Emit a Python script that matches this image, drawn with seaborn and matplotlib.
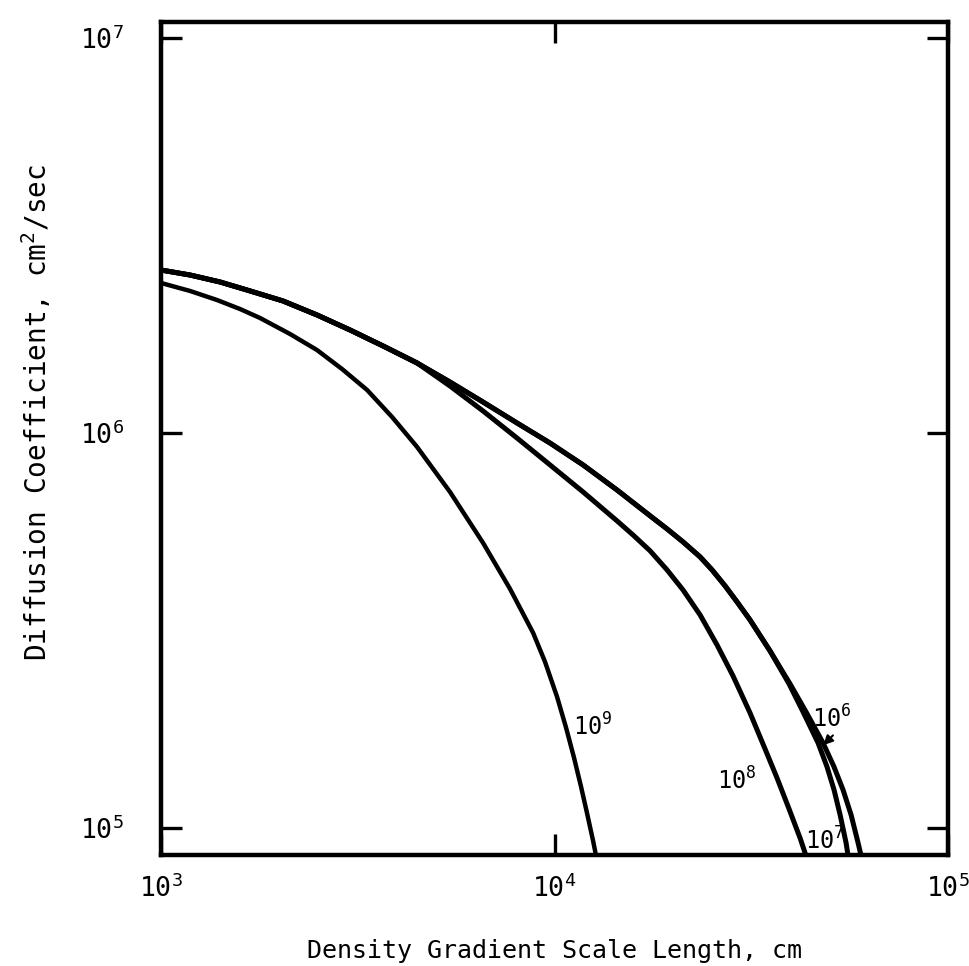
import matplotlib
matplotlib.use("Agg")
import matplotlib.pyplot as plt
import seaborn as sns
import pandas as pd
from matplotlib.ticker import FixedLocator, FixedFormatter, NullLocator

# ---------------- data ----------------
# Density gradient scale length L (cm) and diffusion coefficient D (cm^2/sec)
L_1e6 = [1000, 1185, 1412, 1684, 2042, 2491, 3022, 3666, 4473, 5424, 6580,
         8029, 9741, 11820, 14420, 17490, 19320, 21210, 23440, 25140, 27130,
         29090, 31390, 35290, 39670, 43560, 48130, 51320, 54100, 56700,
         59070, 60110]
D_1e6 = [2.586e6, 2.512e6, 2.412e6, 2.289e6, 2.159e6, 1.990e6, 1.823e6,
         1.661e6, 1.504e6, 1.346e6, 1.198e6, 1.060e6, 9.43e5, 8.30e5, 7.17e5,
         6.17e5, 5.715e5, 5.299e5, 4.855e5, 4.500e5, 4.100e5, 3.735e5,
         3.362e5, 2.806e5, 2.316e5, 1.967e5, 1.641e5, 1.427e5, 1.248e5,
         1.079e5, 9.165e4, 8.50e4]

L_1e7 = [1000, 1185, 1412, 1684, 2042, 2491, 3022, 3666, 4473, 5424, 6580,
         8029, 9741, 11820, 14420, 17490, 19320, 21210, 23440, 25140, 27130,
         29090, 31390, 35290, 39440, 42810, 46740, 49260, 51320, 53170,
         55060, 55710]
D_1e7 = [2.586e6, 2.512e6, 2.412e6, 2.289e6, 2.159e6, 1.990e6, 1.823e6,
         1.661e6, 1.504e6, 1.346e6, 1.198e6, 1.060e6, 9.43e5, 8.30e5, 7.17e5,
         6.17e5, 5.715e5, 5.299e5, 4.855e5, 4.500e5, 4.100e5, 3.735e5,
         3.362e5, 2.806e5, 2.316e5, 1.967e5, 1.641e5, 1.427e5, 1.248e5,
         1.079e5, 9.165e4, 8.50e4]

L_1e8 = [1000, 1185, 1412, 1684, 2042, 2491, 3022, 3666, 4473, 5424, 6580,
         8029, 9741, 11820, 14420, 15830, 17490, 19320, 21210, 23440, 25880,
         28420, 31390, 34270, 36760, 39440, 42060, 43560]
D_1e8 = [2.586e6, 2.512e6, 2.412e6, 2.289e6, 2.159e6, 1.990e6, 1.823e6,
         1.661e6, 1.504e6, 1.315e6, 1.137e6, 9.71e5, 8.30e5, 7.09e5, 5.988e5,
         5.518e5, 5.03e5, 4.500e5, 4.004e5, 3.461e5, 2.906e5, 2.425e5,
         1.955e5, 1.585e5, 1.338e5, 1.117e5, 9.43e4, 8.50e4]

L_1e9 = [1000, 1185, 1388, 1588, 1785, 2127, 2491, 2884, 3339, 3864, 4473,
         5424, 6580, 7706, 8819, 9460, 10150, 10700, 11210, 11680, 12090,
         12530, 12750]
D_1e9 = [2.398e6, 2.289e6, 2.171e6, 2.060e6, 1.955e6, 1.781e6, 1.622e6,
         1.452e6, 1.285e6, 1.098e6, 9.22e5, 7.09e5, 5.27e5, 4.03e5, 3.12e5,
         2.632e5, 2.146e5, 1.792e5, 1.504e5, 1.270e5, 1.091e5, 9.27e4, 8.50e4]

curve_names = ["1e6", "1e7", "1e8", "1e9"]
curve_labels = ["$10^{6}$", "$10^{7}$", "$10^{8}$", "$10^{9}$"]

x_ticks = [1e3, 1e4, 1e5]
x_ticklabels = ["$10^{3}$", "$10^{4}$", "$10^{5}$"]
y_ticks = [1e5, 1e6, 1e7]
y_ticklabels = ["$10^{5}$", "$10^{6}$", "$10^{7}$"]

x_label = "Density Gradient Scale Length, cm"
y_label = "Diffusion Coefficient, cm$^{2}$/sec"

# ---------------- figure ----------------
sns.set_style("ticks")
plt.rcParams["font.family"] = ["DejaVu Sans Mono", "DejaVu Sans"]
plt.rcParams["mathtext.fontset"] = "custom"
plt.rcParams["mathtext.rm"] = "DejaVu Sans Mono"
plt.rcParams["mathtext.it"] = "DejaVu Sans Mono"
plt.rcParams["mathtext.bf"] = "DejaVu Sans Mono:bold"
plt.rcParams["mathtext.default"] = "regular"
plt.rcParams["text.color"] = "black"
plt.rcParams["axes.labelcolor"] = "black"
plt.rcParams["xtick.color"] = "black"
plt.rcParams["ytick.color"] = "black"

fig = plt.figure(figsize=(9.69, 9.66), dpi=100)
ax = fig.add_axes([0.1662, 0.1149, 0.8122, 0.8623])
ax.set_xscale("log")
ax.set_yscale("log")

frames = []
for name, L, D in zip(curve_names, [L_1e6, L_1e7, L_1e8, L_1e9],
                      [D_1e6, D_1e7, D_1e8, D_1e9]):
    frames.append(pd.DataFrame({"L": L, "D": D, "curve": name}))
df = pd.concat(frames, ignore_index=True)

widths = {"1e6": 3.6, "1e7": 3.6, "1e8": 3.6, "1e9": 3.2}
for name in curve_names:
    sub = df[df["curve"] == name]
    sns.lineplot(data=sub, x="L", y="D", ax=ax, color="black",
                 linewidth=widths[name], sort=False, estimator=None,
                 legend=False, solid_capstyle="butt", solid_joinstyle="round")

ax.set_xlim(1e3, 1e5)
ax.set_ylim(8.54e4, 1.098e7)

# ticks
ax.xaxis.set_major_locator(FixedLocator(x_ticks))
ax.xaxis.set_major_formatter(FixedFormatter(x_ticklabels))
ax.yaxis.set_major_locator(FixedLocator(y_ticks))
ax.yaxis.set_major_formatter(FixedFormatter(y_ticklabels))
ax.xaxis.set_minor_locator(NullLocator())
ax.yaxis.set_minor_locator(NullLocator())
ax.tick_params(axis="both", which="major", direction="in", length=15,
               width=2.4, color="black", top=True, right=True,
               labelsize=19, labelcolor="black")
ax.tick_params(axis="x", pad=14)
ax.tick_params(axis="y", pad=27)

for sp in ax.spines.values():
    sp.set_linewidth(3.2)
    sp.set_color("black")
    sp.set_visible(True)

# axis labels
ax.set_xlabel(x_label, fontsize=18, va="baseline", color="black")
ax.xaxis.set_label_coords(0.5, -0.1237)
ax.set_ylabel(y_label, fontsize=20, va="baseline", ha="center",
              rotation_mode="anchor", color="black")
ax.yaxis.set_label_coords(-0.1449, 0.5306)

# curve annotations
ax.text(11140, 1.718e5, curve_labels[3], fontsize=17, ha="left", va="baseline")
ax.text(25880, 1.247e5, curve_labels[2], fontsize=17, ha="left", va="baseline")
ax.text(43350, 8.79e4, curve_labels[1], fontsize=17, ha="left", va="baseline")
ax.annotate(curve_labels[0], xy=(48200, 1.62e5), xytext=(45200, 1.80e5),
            textcoords="data", fontsize=17, ha="left", va="baseline",
            arrowprops=dict(arrowstyle="-|>", color="black", lw=1.5,
                            mutation_scale=14, shrinkA=0, shrinkB=0,
                            relpos=(0.6, 0.0)))

fig.savefig("out.png", dpi=100, facecolor="white")
